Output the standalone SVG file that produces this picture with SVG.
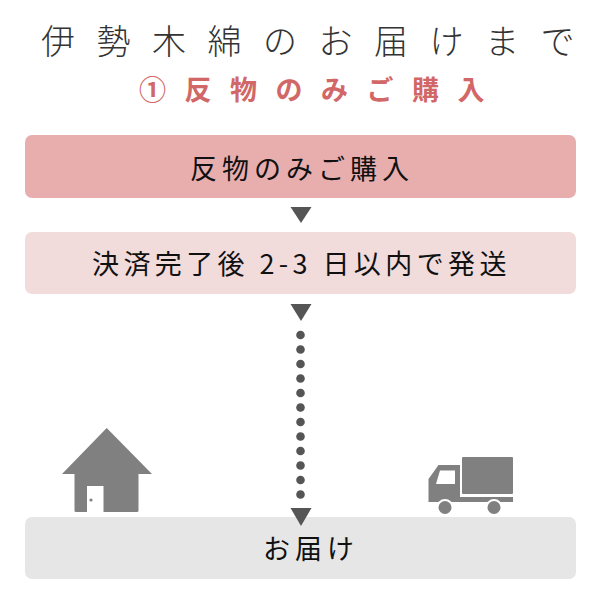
<svg xmlns="http://www.w3.org/2000/svg" width="600" height="600" viewBox="0 0 600 600">
<style>
.title{font-family:"Noto Sans CJK JP","Noto Sans",sans-serif;font-weight:300;font-size:34px;fill:#333;letter-spacing:21.5px}
.sub{font-family:"Noto Sans CJK JP","Noto Sans",sans-serif;font-weight:700;font-size:27px;fill:#d26767;letter-spacing:18.5px}
.lbl{font-family:"Noto Sans CJK JP","Noto Sans",sans-serif;font-size:27px;fill:#111}
.tri{fill:#555}
.dot{fill:#555}
.icon{fill:#808080}
</style>
<rect width="600" height="600" fill="#fff"/>
<text class="title" x="41" y="54">伊勢木綿のお届けまで</text>
<text class="sub" x="139" y="100">①反物のみご購入</text>

<g id="connectors">
<polygon class="tri" points="290.5,207 311.5,207 301,223"/>
<polygon class="tri" points="290.5,304 311.5,304 301,321"/>
<g id="dots">
<circle class="dot" cx="300.5" cy="335" r="4.3"/>
<circle class="dot" cx="300.5" cy="349.5" r="4.3"/>
<circle class="dot" cx="300.5" cy="364" r="4.3"/>
<circle class="dot" cx="300.5" cy="378.5" r="4.3"/>
<circle class="dot" cx="300.5" cy="393" r="4.3"/>
<circle class="dot" cx="300.5" cy="407.5" r="4.3"/>
<circle class="dot" cx="300.5" cy="422" r="4.3"/>
<circle class="dot" cx="300.5" cy="436.5" r="4.3"/>
<circle class="dot" cx="300.5" cy="451" r="4.3"/>
<circle class="dot" cx="300.5" cy="465.5" r="4.3"/>
<circle class="dot" cx="300.5" cy="480" r="4.3"/>
<circle class="dot" cx="300.5" cy="494.5" r="4.3"/>
</g>
</g>

<g id="node-purchase">
<rect x="25" y="135" width="551" height="63" rx="7" fill="#e8aeae"/>
<text class="lbl" x="190" y="178.5" letter-spacing="5">反物のみご購入</text>
</g>
<g id="node-ship">
<rect x="25" y="232" width="551" height="62" rx="7" fill="#f2dbdb"/>
<text class="lbl" x="92" y="274" letter-spacing="4.4">決済完了後 2-3 日以内で発送</text>
</g>
<g id="node-deliver">
<rect x="25" y="517" width="551" height="62" rx="7" fill="#e6e6e6"/>
<polygon class="tri" points="290.5,508 311.5,508 301,526"/>
<text class="lbl" x="263" y="559" letter-spacing="5">お届け</text>
</g>

<g id="house">
<polygon class="icon" points="106.7,428 152,474 62,474"/>
<rect class="icon" x="74.5" y="470" width="64" height="42" rx="1.5"/>
<rect x="87" y="486" width="16.5" height="27" fill="#fff"/>
<circle class="icon" cx="91" cy="500" r="1.6"/>
</g>

<g id="truck">
<rect class="icon" x="462" y="457" width="51" height="37" rx="1"/>
<polygon class="icon" points="428.5,479 438.5,465 460,465 460,497 513,497 513,502 428.5,502"/>
<polygon points="436,484 440,470.5 455,470.5 455,484" fill="#fff"/>
<circle cx="445" cy="507.5" r="8.5" fill="#fff"/>
<circle class="icon" cx="445" cy="507.5" r="6.5"/>
<circle cx="494" cy="507.5" r="8.5" fill="#fff"/>
<circle class="icon" cx="494" cy="507.5" r="6.5"/>
</g>
</svg>
